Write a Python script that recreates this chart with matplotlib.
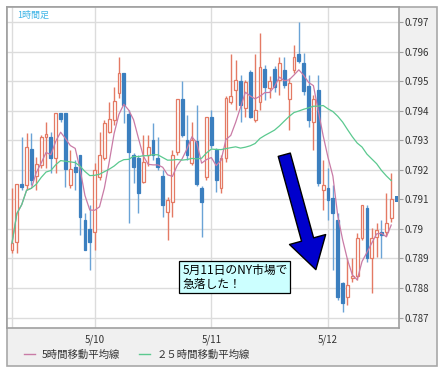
import matplotlib
matplotlib.use('Agg')
import matplotlib.pyplot as plt
from matplotlib.patches import Rectangle
from matplotlib.lines import Line2D
from matplotlib.ticker import FuncFormatter
import numpy as np
import pandas as pd

plt.rcParams['font.family'] = ['Noto Sans CJK JP', 'DejaVu Sans']

# 1時間足 OHLC (5/9 朝 ～ 5/12)
opens = [0.78928, 0.78956, 0.79152, 0.79148, 0.79270, 0.79179, 0.79216, 0.79311, 0.79311, 0.79240,
         0.79392, 0.79392, 0.79148, 0.79209, 0.79250, 0.79030, 0.79000, 0.78989, 0.79175, 0.79240,
         0.79328, 0.79368, 0.79460, 0.79527, 0.79389, 0.79250, 0.79240, 0.79159, 0.79250, 0.79301,
         0.79240, 0.79179, 0.79057, 0.79091, 0.79260, 0.79439, 0.79301, 0.79223, 0.79297, 0.79138,
         0.79175, 0.79379, 0.79267, 0.79138, 0.79240, 0.79429, 0.79470, 0.79500, 0.79409, 0.79531,
         0.79368, 0.79429, 0.79541, 0.79477, 0.79541, 0.79504, 0.79538, 0.79439, 0.79538, 0.79592,
         0.79561, 0.79483, 0.79362, 0.79470, 0.79132, 0.79138, 0.79104, 0.79030, 0.78817, 0.78769,
         0.78834, 0.78840, 0.78969, 0.79071, 0.78901, 0.78972, 0.78989, 0.78989, 0.79037]
highs = [0.79138, 0.79152, 0.79311, 0.79324, 0.79324, 0.79243, 0.79318, 0.79362, 0.79328, 0.79392,
         0.79392, 0.79392, 0.79267, 0.79233, 0.79250, 0.79054, 0.79081, 0.79223, 0.79328, 0.79368,
         0.79429, 0.79480, 0.79582, 0.79527, 0.79402, 0.79257, 0.79250, 0.79318, 0.79318, 0.79358,
         0.79311, 0.79199, 0.79108, 0.79267, 0.79439, 0.79500, 0.79385, 0.79362, 0.79419, 0.79145,
         0.79379, 0.79402, 0.79274, 0.79250, 0.79450, 0.79592, 0.79571, 0.79521, 0.79504, 0.79538,
         0.79592, 0.79663, 0.79555, 0.79517, 0.79551, 0.79582, 0.79582, 0.79511, 0.79622, 0.79700,
         0.79595, 0.79521, 0.79453, 0.79521, 0.79233, 0.79206, 0.79148, 0.79054, 0.78820, 0.78901,
         0.78901, 0.78986, 0.79081, 0.79081, 0.79003, 0.79020, 0.79030, 0.79121, 0.79189]
lows = [0.78918, 0.78918, 0.79132, 0.79132, 0.79148, 0.79132, 0.79206, 0.79206, 0.79189, 0.79189,
        0.79362, 0.79142, 0.79138, 0.79132, 0.78979, 0.78928, 0.78861, 0.78928, 0.79165, 0.79233,
        0.79324, 0.79351, 0.79443, 0.79358, 0.79020, 0.79155, 0.79054, 0.79155, 0.79213, 0.79233,
        0.79199, 0.79040, 0.78962, 0.79040, 0.79250, 0.79311, 0.79233, 0.79216, 0.79145, 0.78972,
        0.79165, 0.79274, 0.79125, 0.79121, 0.79226, 0.79423, 0.79402, 0.79362, 0.79379, 0.79375,
        0.79362, 0.79402, 0.79436, 0.79443, 0.79463, 0.79453, 0.79477, 0.79335, 0.79527, 0.79561,
        0.79453, 0.79345, 0.79267, 0.79145, 0.79064, 0.79030, 0.78861, 0.78759, 0.78719, 0.78742,
        0.78820, 0.78827, 0.78962, 0.78888, 0.78783, 0.78905, 0.78901, 0.78976, 0.79023]
closes = [0.78952, 0.79152, 0.79142, 0.79277, 0.79165, 0.79219, 0.79311, 0.79321, 0.79240, 0.79392,
          0.79372, 0.79203, 0.79203, 0.79192, 0.79040, 0.78928, 0.78956, 0.79199, 0.79250, 0.79358,
          0.79372, 0.79433, 0.79527, 0.79419, 0.79260, 0.79209, 0.79121, 0.79226, 0.79277, 0.79250,
          0.79209, 0.79081, 0.79098, 0.79250, 0.79439, 0.79318, 0.79250, 0.79301, 0.79152, 0.79091,
          0.79379, 0.79284, 0.79165, 0.79240, 0.79443, 0.79450, 0.79504, 0.79419, 0.79497, 0.79379,
          0.79402, 0.79548, 0.79480, 0.79500, 0.79480, 0.79561, 0.79487, 0.79494, 0.79582, 0.79568,
          0.79467, 0.79368, 0.79439, 0.79155, 0.79148, 0.79098, 0.79054, 0.78769, 0.78749, 0.78810,
          0.78840, 0.78969, 0.79081, 0.78901, 0.78969, 0.78996, 0.78979, 0.79020, 0.79101]

date_pos = [0, 17, 41, 65]
date_labels = ['', '5/10', '5/11', '5/12']
price_ticks = [0.787, 0.788, 0.789, 0.790, 0.791, 0.792, 0.793, 0.794, 0.795, 0.796, 0.797]

red = '#e47a64'
blue = '#3b7fbf'
blue_wick = '#6aa3d6'
pink = '#c97ba6'
green = '#5bc98f'

o = np.array(opens); h = np.array(highs); l = np.array(lows); c = np.array(closes)
x = np.arange(len(c))
up = c >= o
ma5 = pd.Series(c).rolling(5, min_periods=1).mean()
ma25 = pd.Series(c).rolling(25, min_periods=1).mean()

fig = plt.figure(figsize=(4.46, 3.74), dpi=100)
fig.add_artist(Rectangle((7/446, 1-366/374), 430/446, 359/374, transform=fig.transFigure,
                         fc='#f0f0f0', ec='#a8a8a8', lw=1.2, zorder=0))
ax = fig.add_axes([7/446, 1-328/374, 392/446, 321/374])
ax.set_facecolor('white')

# candles
ax.vlines(x[up], l[up], h[up], color=red, lw=1, zorder=2)
ax.vlines(x[~up], l[~up], h[~up], color=blue_wick, lw=1, zorder=2)
ax.bar(x[up], c[up]-o[up], bottom=o[up], width=0.58, facecolor='white', edgecolor=red, lw=0.9, zorder=3)
ax.bar(x[~up], o[~up]-c[~up], bottom=c[~up], width=0.58, facecolor=blue, edgecolor=blue, lw=0.9, zorder=3)
# current price marker
ax.bar(len(c)+0.1, 0.00018, bottom=c[-1]-0.00009, width=0.6, color=blue, zorder=3)

ax.plot(x, ma5, color=pink, lw=0.9, zorder=4)
ax.plot(x, ma25, color=green, lw=0.9, zorder=4)

ax.set_xlim(-1.03, 79.6)
ax.set_ylim(0.786645, 0.79751)
ax.set_yticks(price_ticks)
ax.yaxis.set_major_formatter(FuncFormatter(lambda v, _: ('%.3f' % v).rstrip('0')))
ax.yaxis.tick_right()
ax.set_xticks(date_pos)
ax.set_xticklabels(date_labels)
ax.grid(True, color='#dcdcdc', lw=1)
ax.set_axisbelow(True)
ax.tick_params(axis='y', length=3, color='#a0a0a0', pad=1, labelsize=7, labelcolor='#333333')
ax.tick_params(axis='x', length=0, pad=5, labelsize=7, labelcolor='#333333')
for s in ax.spines.values():
    s.set_color('#a0a0a0')
    s.set_linewidth(1.2)

fig.text(17/446, 1-15/374, '1時間足', color='#3cb4e6', fontsize=6.5, ha='left', va='center')

ax.text(35.0, 0.78881, '5月11日のNY市場で\n急落した！', ha='left', va='top', fontsize=8.5,
        linespacing=1.05, zorder=6,
        bbox=dict(boxstyle='square,pad=0.25', fc='#ccffff', ec='black', lw=0.9))
ax.annotate('', xy=(62.5, 0.78862), xytext=(56.0, 0.79251), zorder=6,
            arrowprops=dict(arrowstyle='simple,head_length=0.75,head_width=0.9,tail_width=0.3',
                            fc='#0000cc', ec='black', lw=1, shrinkA=0, shrinkB=0, mutation_scale=30))

handles = [Line2D([], [], color=pink, lw=1), Line2D([], [], color=green, lw=1)]
leg = fig.legend(handles, ['5時間移動平均線', '２５時間移動平均線'], loc='center left',
                 bbox_to_anchor=(24/446, 1-355/374), ncol=2, frameon=False, fontsize=7.5,
                 handlelength=1.1, handletextpad=0.6, columnspacing=1.8, borderpad=0, borderaxespad=0)
for t in leg.get_texts():
    t.set_color('#333333')

fig.savefig('out.png', dpi=100)
